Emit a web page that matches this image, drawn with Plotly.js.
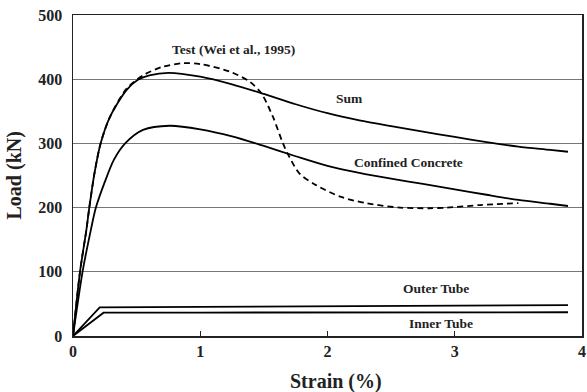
<!DOCTYPE html>
<html>
<head>
<meta charset="utf-8">
<script src="https://cdn.plot.ly/plotly-3.0.1.min.js"></script>
<style>
  html, body { margin: 0; padding: 0; background: #fff; }
  #chart { width: 587px; height: 392px; }
</style>
</head>
<body>
<div id="chart"></div>
<script>
// Load-strain response of the double-skin tube column (strain in %, load in kN)
const sumStrain = [0, 0.055, 0.105, 0.128, 0.17, 0.217, 0.29, 0.42, 0.51, 0.6, 0.75, 1.0, 1.25, 1.5, 1.75, 2.0, 2.25, 2.5, 2.75, 3.0, 3.25, 3.5, 3.75, 3.89];
const sumLoad   = [0, 100, 165, 200, 255, 300, 341, 383, 399, 406, 410, 404, 392, 377, 361, 347, 336, 327, 318.5, 310, 302, 295, 290, 287];

const concStrain = [0, 0.075, 0.14, 0.18, 0.25, 0.32, 0.41, 0.55, 0.76, 1.0, 1.25, 1.5, 1.75, 2.0, 2.25, 2.5, 2.75, 3.0, 3.25, 3.5, 3.75, 3.89];
const concLoad   = [0, 100, 165, 200, 240, 274, 300, 321, 327.5, 322, 311, 296, 280, 265, 254, 245, 237, 228.5, 220, 212, 206, 202.5];

const testStrain = [0, 0.055, 0.105, 0.128, 0.17, 0.217, 0.29, 0.42, 0.55, 0.7, 0.87, 1.0, 1.23, 1.39, 1.48, 1.57, 1.65, 1.70, 1.78, 1.91, 2.10, 2.31, 2.57, 2.8, 2.94, 3.2, 3.5];
const testLoad   = [0, 100, 165, 200, 255, 300, 341, 385, 406, 419, 425, 423.5, 412, 396, 378, 342, 300, 279, 253, 235, 217, 206.7, 200, 199, 200, 204, 207];

const outerStrain = [0, 0.21, 1, 2, 3, 3.89];
const outerLoad   = [0, 44.7, 45.5, 46.5, 47.3, 48];

const innerStrain = [0, 0.24, 1, 2, 3, 3.89];
const innerLoad   = [0, 36.3, 36.5, 36.7, 36.9, 37];

const xTicks = [0, 1, 2, 3, 4];
const yTicks = [0, 100, 200, 300, 400, 500];

const FONT = 'Liberation Serif';
const INK = '#222';

function curve(x, y, dash, smooth) {
  return {
    x: x, y: y, type: 'scatter', mode: 'lines',
    line: { color: '#000', width: 1.8, dash: dash, shape: smooth ? 'spline' : 'linear', smoothing: 0.8 },
    hoverinfo: 'skip'
  };
}

const traces = [
  curve(outerStrain, outerLoad, 'solid', false),
  curve(innerStrain, innerLoad, 'solid', false),
  curve(concStrain, concLoad, 'solid', true),
  curve(sumStrain, sumLoad, 'solid', true),
  curve(testStrain, testLoad, '6px,4px', true)
];

function label(text, x, y) {
  return { text: text, x: x, y: y, xref: 'x', yref: 'y', showarrow: false,
           font: { family: FONT, size: 13.5, color: INK, weight: 'bold' } };
}

const layout = {
  width: 587, height: 392,
  margin: { l: 73, r: 5, t: 15, b: 56 },
  paper_bgcolor: '#fff', plot_bgcolor: '#fff',
  showlegend: false,
  font: { family: FONT, color: INK },
  xaxis: {
    range: [0, 4], tickvals: xTicks, ticktext: xTicks.map(String),
    showgrid: false, zeroline: false,
    showline: true, mirror: true, linecolor: INK, linewidth: 1.5,
    ticks: 'inside', ticklen: 5, tickcolor: INK, tickwidth: 1.2,
    tickfont: { family: FONT, size: 16, weight: 'bold', color: INK }
  },
  yaxis: {
    range: [0, 500], tickvals: yTicks, ticktext: yTicks.map(String),
    showgrid: true, gridcolor: '#777', gridwidth: 1, zeroline: false,
    showline: true, mirror: true, linecolor: INK, linewidth: 1.5,
    ticks: '', ticklabelstandoff: 6,
    tickfont: { family: FONT, size: 16, weight: 'bold', color: INK }
  },
  annotations: [
    label('Test (Wei et al., 1995)', 1.265, 445.5),
    label('Sum', 2.17, 370),
    label('Confined Concrete', 2.635, 270),
    label('Outer Tube', 2.85, 74.3),
    label('Inner Tube', 2.895, 18.7),
    // axis titles
    { text: 'Strain (%)', xref: 'x', yref: 'paper', x: 2.07, y: -0.142, yanchor: 'middle',
      showarrow: false, font: { family: FONT, size: 20, weight: 'bold', color: INK } },
    { text: 'Load (kN)', xref: 'paper', yref: 'paper', x: -0.114, y: 0.5, xanchor: 'center', yanchor: 'middle',
      textangle: -90, showarrow: false, font: { family: FONT, size: 20, weight: 'bold', color: INK } }
  ]
};

Plotly.newPlot('chart', traces, layout, { staticPlot: true, displayModeBar: false });
</script>
</body>
</html>
